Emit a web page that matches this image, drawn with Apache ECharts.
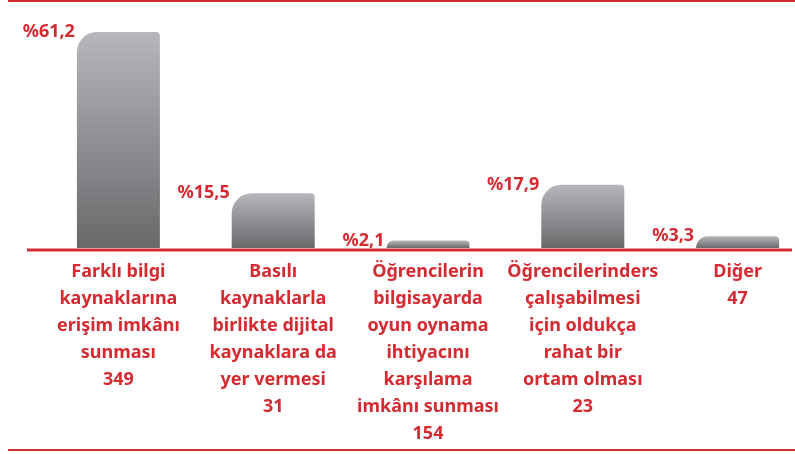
<!DOCTYPE html>
<html>
<head>
<meta charset="utf-8">
<script src="https://cdn.jsdelivr.net/npm/echarts@6/dist/echarts.min.js"></script>
<style>
  html, body { margin: 0; padding: 0; background: #fff; }
  #chart { width: 795px; height: 454px; }
</style>
</head>
<body>
<div id="chart"></div>
<script>
// category texts (wrapped as in the source), respondent counts and shares
var categories = [
  'Farklı bilgi\nkaynaklarına\nerişim imkânı\nsunması',
  'Basılı\nkaynaklarla\nbirlikte dijital\nkaynaklara da\nyer vermesi',
  'Öğrencilerin\nbilgisayarda\noyun oynama\nihtiyacını\nkarşılama\nimkânı sunması',
  'Öğrencilerinders\nçalışabilmesi\niçin oldukça\nrahat bir\nortam olması',
  'Diğer'
];
var counts = [349, 31, 154, 23, 47];
var percents = [61.2, 15.5, 2.1, 17.9, 3.3];

var red = '#d42a31';
var font = '"Noto Sans", sans-serif';

var chart = echarts.init(document.getElementById('chart'));

var option = {
  animation: false,
  grid: { left: 41, width: 774, top: 1, bottom: 206, outerBoundsMode: 'none', containLabel: false },
  xAxis: {
    type: 'category',
    data: categories,
    axisLine: { show: false },
    axisTick: { show: false },
    axisLabel: {
      interval: 0,
      margin: 10,
      color: red,
      fontFamily: font,
      fontWeight: 'bold',
      fontSize: 18,
      lineHeight: 27,
      formatter: function (val, i) {
        return val + '\n' + counts[i];
      }
    }
  },
  yAxis: {
    type: 'value',
    min: 0,
    max: 70,
    show: false,
    splitLine: { show: false }
  },
  series: [{
    type: 'bar',
    data: percents,
    barWidth: 83,
    itemStyle: {
      borderRadius: [20, 4, 0, 0],
      color: new echarts.graphic.LinearGradient(0, 0, 0, 1, [
        { offset: 0, color: '#b6b7ba' },
        { offset: 1, color: '#69696c' }
      ])
    },
    label: {
      show: true,
      position: [-2, 0],
      align: 'right',
      verticalAlign: 'middle',
      color: red,
      fontFamily: font,
      fontWeight: 'bold',
      fontSize: 18,
      formatter: function (p) {
        return '%' + String(p.value).replace('.', ',');
      }
    }
  }],
  graphic: [
    { type: 'rect', shape: { x: 8, y: 0, width: 787, height: 2 }, style: { fill: red } },
    { type: 'rect', shape: { x: 27, y: 248.5, width: 765, height: 3 }, style: { fill: red }, z: 10 },
    { type: 'rect', shape: { x: 8, y: 449, width: 787, height: 2 }, style: { fill: red } }
  ]
};

chart.setOption(option);
</script>
</body>
</html>
